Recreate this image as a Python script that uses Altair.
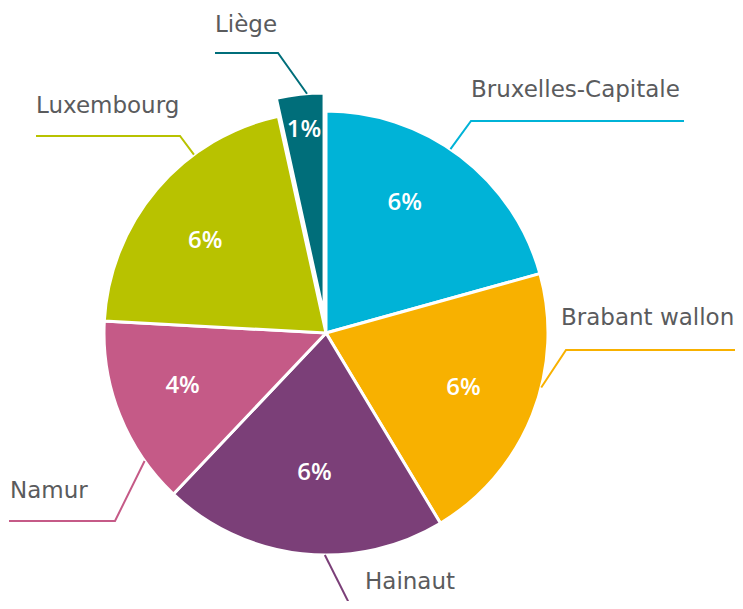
import math
import altair as alt
import pandas as pd

# ---- data ----
regions = ["Bruxelles-Capitale", "Brabant wallon", "Hainaut", "Namur", "Luxembourg", "Liège"]
values = [6, 6, 6, 4, 6, 1]
pct_labels = ["6%", "6%", "6%", "4%", "6%", "1%"]
colors = ["#00B3D7", "#F8B100", "#7B3F78", "#C55A87", "#B8C200", "#006E7A"]

# ---- layout (pixels in chart space) ----
W, H = 727, 593
CX, CY, R = 318, 325, 222
explode = [0, 0, 0, 0, 0, 18]
label_r = [152, 148, 140, 153, 152, 186]
label_dang = [-6, 0, -1.5, 1.3, -3, 0]
# leader lines: anchor angle on the arc (deg), elbow point, end point
lead_angle = [34.1, 104.2, 180.3, 234.8, 323.5, 355.6]
lead_elbow = [(463, 113), (558, 342), (344, 601), (107, 513), (172, 128), (270, 45)]
lead_end = [(676, 113), (727, 342), (344, 601), (1, 513), (28, 128), (207, 45)]
name_pos = [(463, 89), (553, 317), (357, 581), (2, 490), (28, 105), (207, 24)]

total = sum(values)
rows, lines, names = [], [], []
acc = 0
for i, (n, v) in enumerate(zip(regions, values)):
    start, end = acc, acc + v
    acc = end
    mid = (start + end) / 2 / total * 2 * math.pi
    cx = CX + explode[i] * math.sin(mid)
    cy = CY - explode[i] * math.cos(mid)
    la = mid + math.radians(label_dang[i])
    rows.append(dict(region=n, start=start, end=end, color=colors[i], cx=cx, cy=cy,
                     lx=cx + label_r[i] * math.sin(la), ly=cy - label_r[i] * math.cos(la),
                     pct=pct_labels[i]))
    a = math.radians(lead_angle[i])
    sx, sy = cx + R * math.sin(a), cy - R * math.cos(a)
    for k, (px, py) in enumerate([(sx, sy), lead_elbow[i], lead_end[i]]):
        lines.append(dict(region=n, k=k, px=px, py=py, color=colors[i]))
    names.append(dict(region=n, nx=name_pos[i][0], ny=name_pos[i][1]))

df = pd.DataFrame(rows)
dl = pd.DataFrame(lines)
dn = pd.DataFrame(names)

base = alt.Chart(df)
arcs = base.mark_arc(radius=R, stroke="white", strokeWidth=3).encode(
    theta=alt.Theta("start:Q", stack=None, scale=alt.Scale(domain=[0, total], range=[0, 2 * math.pi])),
    theta2="end:Q",
    x=alt.X("cx:Q", scale=None, axis=None),
    y=alt.Y("cy:Q", scale=None, axis=None),
    color=alt.Color("color:N", scale=None),
)
pcts = base.mark_text(color="white", fontSize=24, fontWeight=600, font="Open Sans",
                      align="center", baseline="middle").encode(
    x=alt.X("lx:Q", scale=None, axis=None),
    y=alt.Y("ly:Q", scale=None, axis=None),
    text="pct:N",
)
leaders = alt.Chart(dl).mark_line(strokeWidth=2).encode(
    x=alt.X("px:Q", scale=None, axis=None),
    y=alt.Y("py:Q", scale=None, axis=None),
    detail="region:N",
    order="k:Q",
    color=alt.Color("color:N", scale=None),
)
texts = alt.Chart(dn).mark_text(color="#5A5B5D", fontSize=23, font="DejaVu Sans", fontWeight="normal",
                                align="left", baseline="alphabetic").encode(
    x=alt.X("nx:Q", scale=None, axis=None),
    y=alt.Y("ny:Q", scale=None, axis=None),
    text="region:N",
)

chart = alt.layer(arcs, leaders, pcts, texts).properties(
    width=W, height=H, autosize=alt.AutoSizeParams(type="none"), padding=0
).configure_view(stroke=None)

chart.save("out.html", embed_options={"renderer": "svg", "actions": False})
